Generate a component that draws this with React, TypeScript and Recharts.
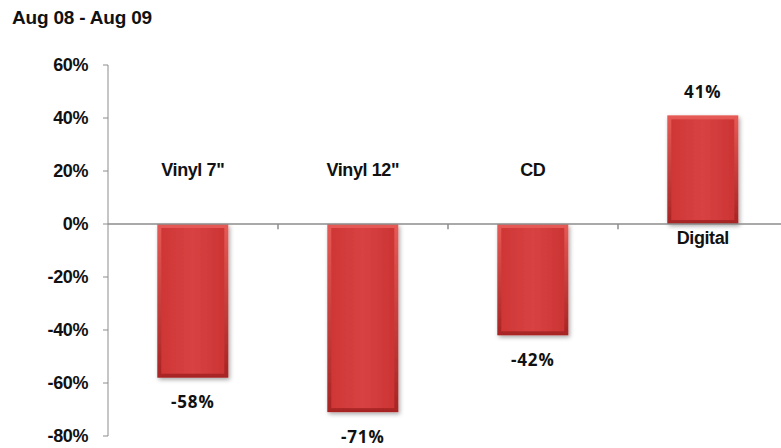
import { Bar, BarChart, LabelList, ReferenceLine, YAxis, XAxis } from "recharts";

const categories = ['Vinyl 7"', 'Vinyl 12"', "CD", "Digital"];
const changePct = [-58, -71, -42, 41];
const yTicks = [-80, -60, -40, -20, 0, 20, 40, 60];

const data = categories.map((name, i) => ({ name, value: changePct[i] }));

const AXIS = "#8c8c8c";
const LABEL_FONT = '"Liberation Sans", Arial, sans-serif';
const VALUE_FONT = '"Open Sans", "DejaVu Sans", sans-serif';

function BevelBar(props: any) {
  const { x, y, width, height } = props;
  const top = Math.min(y, y + height);
  const h = Math.abs(height);
  if (!h) return null;
  const inset = 4;
  return (
    <g filter="url(#barShadow)">
      <rect x={x} y={top} width={width} height={h} fill="url(#barEdge)" />
      <rect
        x={x + inset}
        y={top + inset}
        width={Math.max(width - inset * 2, 0)}
        height={Math.max(h - inset * 2, 0)}
        fill="url(#barFace)"
      />
    </g>
  );
}

function CategoryLabel(props: any) {
  const { x, y, width, height, value, index } = props;
  const top = Math.min(y, y + height);
  const bottom = Math.max(y, y + height);
  const negative = changePct[index] < 0;
  const cy = negative ? top - 54 : bottom + 14;
  return (
    <text
      x={x + width / 2}
      y={cy}
      textAnchor="middle"
      dominantBaseline="central"
      fontFamily={LABEL_FONT}
      fontWeight={700}
      fontSize={18}
      letterSpacing={-0.4}
      fill="#111"
    >
      {value}
    </text>
  );
}

function ValueLabel(props: any) {
  const { x, y, width, height, value } = props;
  const top = Math.min(y, y + height);
  const bottom = Math.max(y, y + height);
  const cy = value < 0 ? bottom + 24 : top - 24;
  return (
    <text
      x={x + width / 2}
      y={cy}
      textAnchor="middle"
      dominantBaseline="central"
      fontFamily={VALUE_FONT}
      fontWeight={700}
      fontSize={17}
      letterSpacing={0.9}
      fill="#111"
    >
      {`${value}%`}
    </text>
  );
}

export default function App() {
  return (
    <div
      style={{
        position: "absolute",
        left: 0,
        top: 0,
        width: 781,
        height: 448,
        overflow: "hidden",
        background: "#fff",
      }}
    >
      <div
        style={{
          position: "absolute",
          left: 12,
          top: 8,
          fontFamily: LABEL_FONT,
          fontWeight: 700,
          fontSize: 19,
          letterSpacing: -0.2,
          color: "#111",
          lineHeight: "20px",
        }}
      >
        Aug 08 - Aug 09
      </div>
      <BarChart
        width={790}
        height={448}
        data={data}
        margin={{ top: 65, right: 2, bottom: 12, left: 0 }}
        barCategoryGap="29%"
      >
        <defs>
          <linearGradient id="barEdge" x1="0" y1="0" x2="0" y2="1">
            <stop offset="0%" stopColor="#e65a55" />
            <stop offset="100%" stopColor="#a82424" />
          </linearGradient>
          <linearGradient id="barFace" x1="0" y1="0" x2="1" y2="0">
            <stop offset="0%" stopColor="#cf3636" />
            <stop offset="50%" stopColor="#d84242" />
            <stop offset="100%" stopColor="#cc3434" />
          </linearGradient>
          <filter id="barShadow" x="-20%" y="-20%" width="140%" height="140%">
            <feDropShadow dx="1.5" dy="2" stdDeviation="2" floodColor="#000" floodOpacity="0.35" />
          </filter>
        </defs>
        <XAxis dataKey="name" hide />
        <YAxis
          width={108}
          domain={[-80, 60]}
          ticks={yTicks}
          interval={0}
          tickFormatter={(v: number) => `${v}%`}
          stroke={AXIS}
          tickLine={{ stroke: AXIS }}
          tickSize={5}
          tickMargin={15}
          tick={{ fill: "#111", fontFamily: LABEL_FONT, fontWeight: 700, fontSize: 18, letterSpacing: -0.4 }}
        />
        <Bar dataKey="value" shape={<BevelBar />} isAnimationActive={false}>
          <LabelList dataKey="name" content={<CategoryLabel />} />
          <LabelList dataKey="value" content={<ValueLabel />} />
        </Bar>
        <ReferenceLine y={0} stroke={AXIS} strokeWidth={1.5} />
        {categories.slice(1).map((c) => (
          <ReferenceLine
            key={c}
            segment={[
              { x: c, y: 0 },
              { x: c, y: -2 },
            ]}
            position="start"
            stroke={AXIS}
            strokeWidth={1.5}
          />
        ))}
      </BarChart>
    </div>
  );
}
